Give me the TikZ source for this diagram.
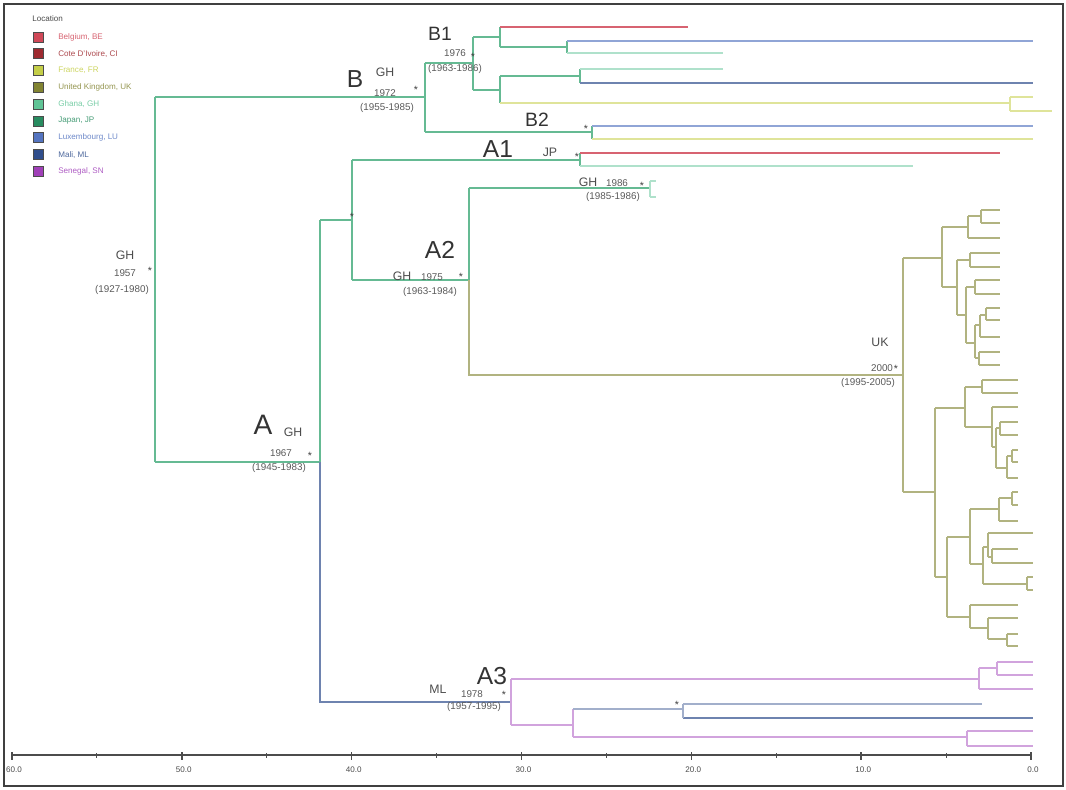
\documentclass[tikz,border=0pt]{standalone}
\usepackage{fontspec}
\setmainfont{Liberation Sans}
\usepackage{tikz}
\usetikzlibrary{positioning}
\usepackage{xcolor}
\definecolor{bered}{RGB}{208,72,88}
\definecolor{cired}{RGB}{158,42,48}
\definecolor{fryel}{RGB}{196,206,72}
\definecolor{ukolive}{RGB}{130,132,50}
\definecolor{ghgreen}{RGB}{96,196,150}
\definecolor{jpgreen}{RGB}{40,140,96}
\definecolor{lublue}{RGB}{84,116,192}
\definecolor{mlblue}{RGB}{48,78,140}
\definecolor{snpurple}{RGB}{160,64,184}
\newcommand{\cherry}[4]{\draw (#1,#2) -- (#1,#3) (#1,#2) -- (#4,#2) (#1,#3) -- (#4,#3);}

\begin{document}
\begin{tikzpicture}[x=0.02cm, y=-0.02cm,
      br/.style={line width=0.8pt},
      ghline/.style={draw=ghgreen!85!gray},
      ghpale/.style={draw=ghgreen!50},
      ukline/.style={draw=ukolive!62},
      frline/.style={draw=fryel!55},
      redline/.style={draw=bered!85},
      luline/.style={draw=lublue!65},
      mlline/.style={draw=mlblue!70},
      snline/.style={draw=snpurple!48},
      clade/.style={font=\fontsize{14}{14}\selectfont, text=black!80, inner sep=0},
      subclade/.style={font=\fontsize{11}{11}\selectfont, text=black!80, inner sep=0},
      loc/.style={font=\fontsize{7}{7}\selectfont, text=black!70, inner sep=0},
      yr/.style={font=\fontsize{5.6}{5.6}\selectfont, text=black!65, inner sep=0},
      star/.style={font=\fontsize{6}{6}\selectfont, text=black!75, inner sep=0},
      swatch/.style={draw=black!70, line width=0.5pt, minimum size=0.2cm, inner sep=0},
      legtxt/.style={anchor=west, font=\fontsize{4.6}{5}\selectfont, inner sep=0},
      tick/.style={font=\fontsize{4.6}{5}\selectfont, text=black!70, inner sep=0}
    ]
    \useasboundingbox (0,0) rectangle (1066,789);
    \draw[black!75, line width=1.2pt] (4,4) rectangle (1063,786);

    % legend
    \node[legtxt, text=black!70] (loctitle) at (32,19) {Location};
    \foreach \c/\t [count=\i] in {bered/{Belgium, BE}, cired/{Cote D'Ivoire, CI},
        fryel/{France, FR}, ukolive/{United Kingdom, UK}, ghgreen/{Ghana, GH},
        jpgreen/{Japan, JP}, lublue/{Luxembourg, LU}, mlblue/{Mali, ML},
        snpurple/{Senegal, SN}} {
      \node[swatch, fill=\c] (sw\i) at (38,{37+(\i-1)*16.8}) {};
      \node[legtxt, text=\c!85] (lg\i) at (58,{37+(\i-1)*16.8}) {\t};
    }

    % backbone and B clade
    \begin{scope}[br, ghline]
      \draw (155,97) -- (155,462) (155,97) -- (425,97) (155,462) -- (320,462);
      \draw (425,63) -- (425,132) (425,63) -- (473,63) (473,37) -- (473,90);
      \draw (473,37) -- (500,37) (500,27) -- (500,47) (500,47) -- (567,47) (567,41) -- (567,53);
      \draw (473,90) -- (500,90) (500,76) -- (500,103) (500,76) -- (580,76) (580,69) -- (580,83);
      \draw (425,132) -- (592,132) (592,126) -- (592,139);
      \draw (320,220) -- (320,462) (320,220) -- (352,220) (352,160) -- (352,280);
      \draw (352,160) -- (580,160) (580,153) -- (580,166);
      \draw (352,280) -- (469,280) (469,188) -- (469,280) (469,188) -- (650,188);
    \end{scope}
    \begin{scope}[br, ghpale]
      \draw (567,53) -- (723,53);
      \draw (580,69) -- (723,69);
      \draw (580,166) -- (913,166);
      \cherry{650}{181}{197}{656}
    \end{scope}
    \begin{scope}[br, redline]
      \draw (500,27) -- (688,27);
      \draw (580,153) -- (1000,153);
    \end{scope}
    \begin{scope}[br, luline]
      \draw (567,41) -- (1033,41);
      \draw (592,126) -- (1033,126);
    \end{scope}
    \begin{scope}[br, frline]
      \draw (500,103) -- (1010,103);
      \draw (1010,97) -- (1010,111) (1010,97) -- (1033,97) (1010,111) -- (1052,111);
      \draw (592,139) -- (1033,139);
    \end{scope}
    \begin{scope}[br, mlline]
      \draw (580,83) -- (1033,83);
      \draw (320,462) -- (320,702) -- (511,702);
      \draw (683,718) -- (1033,718);
    \end{scope}

    % UK clade
    \begin{scope}[br, ukline]
      \draw (469,280) -- (469,375) -- (903,375);
      \draw (903,258) -- (903,492);
      \draw (903,258) -- (942,258) (942,227) -- (942,287);
      \draw (942,227) -- (968,227) (968,216) -- (968,238) (968,216) -- (981,216) (968,238) -- (1000,238);
      \cherry{981}{210}{223}{1000}
      \draw (942,287) -- (957,287) (957,260) -- (957,315) (957,260) -- (970,260);
      \cherry{970}{253}{267}{1000}
      \draw (957,315) -- (966,315) (966,287) -- (966,343) (966,287) -- (975,287);
      \cherry{975}{280}{294}{1000}
      \draw (966,343) -- (975,343) (975,325) -- (975,358);
      \draw (975,325) -- (980,325) (980,315) -- (980,337) (980,337) -- (1000,337) (980,315) -- (986,315);
      \cherry{986}{308}{320}{1000}
      \draw (975,358) -- (979,358);
      \cherry{979}{352}{365}{1000}
      \draw (903,492) -- (935,492) (935,408) -- (935,577);
      \draw (935,408) -- (965,408) (965,387) -- (965,427) (965,387) -- (982,387);
      \cherry{982}{380}{393}{1018}
      \draw (965,427) -- (992,427) (992,407) -- (992,447) (992,407) -- (1018,407);
      \draw (992,447) -- (996,447) (996,428) -- (996,468) (996,428) -- (1000,428);
      \cherry{1000}{422}{435}{1018}
      \draw (996,468) -- (1007,468) (1007,456) -- (1007,478) (1007,478) -- (1018,478) (1007,456) -- (1012,456);
      \cherry{1012}{450}{462}{1018}
      \draw (935,577) -- (947,577) (947,537) -- (947,617);
      \draw (947,537) -- (970,537) (970,509) -- (970,564);
      \draw (970,509) -- (999,509) (999,498) -- (999,521) (999,521) -- (1018,521) (999,498) -- (1012,498);
      \cherry{1012}{492}{505}{1018}
      \draw (970,564) -- (983,564) (983,547) -- (983,584);
      \draw (983,547) -- (988,547) (988,533) -- (988,557) (988,533) -- (1033,533);
      \draw (988,557) -- (992,557) (992,549) -- (992,563) (992,549) -- (1018,549) (992,563) -- (1033,563);
      \draw (983,584) -- (1027,584);
      \cherry{1027}{577}{590}{1033}
      \draw (947,617) -- (970,617) (970,605) -- (970,628) (970,605) -- (1018,605);
      \draw (970,628) -- (988,628) (988,618) -- (988,639) (988,618) -- (1018,618) (988,639) -- (1007,639);
      \cherry{1007}{634}{646}{1018}
    \end{scope}

    % A3 clade
    \begin{scope}[br, snline]
      \draw (511,679) -- (511,725);
      \draw (511,679) -- (979,679) (979,668) -- (979,689) (979,689) -- (1033,689) (979,668) -- (997,668);
      \cherry{997}{662}{675}{1033}
      \draw (511,725) -- (573,725) (573,709) -- (573,737);
      \draw (573,737) -- (967,737);
      \cherry{967}{731}{746}{1033}
    \end{scope}
    \begin{scope}[br, draw=mlblue!45]
      \draw (573,709) -- (683,709) (683,704) -- (683,718);
      \draw (683,704) -- (982,704);
    \end{scope}

    % node labels
    \node[loc] (rootloc) at (125,255) {GH};
    \node[yr] (rootyr) at (125,273) {1957};
    \node[star] (rootstar) at (150,271) {*};
    \node[yr] (rootci) at (122,290) {(1927-1980)};

    \node[clade] (B) at (355,79) {B};
    \node[loc] (Bloc) at (385,72) {GH};
    \node[yr] (Byr) at (385,93) {1972};
    \node[star] (Bstar) at (416,90) {*};
    \node[yr] (Bci) at (387,108) {(1955-1985)};

    \node[subclade] (B1) at (440,34) {B1};
    \node[yr] (B1yr) at (455,53) {1976};
    \node[star] (B1star) at (473,57) {*};
    \node[yr] (B1ci) at (455,69) {(1963-1986)};

    \node[subclade] (B2) at (537,120) {B2};
    \node[star] (B2star) at (586,129) {*};

    \node[clade] (A1) at (498,149) {A1};
    \node[loc] (A1loc) at (550,152) {JP};
    \node[star] (A1star) at (577,157) {*};

    \node[loc] (ghloc) at (588,182) {GH};
    \node[yr] (ghyr) at (617,183) {1986};
    \node[star] (ghstar) at (642,186) {*};
    \node[yr] (ghci) at (613,197) {(1985-1986)};

    \node[star] (Astar2) at (352,217) {*};

    \node[clade] (A2) at (440,250) {A2};
    \node[loc] (A2loc) at (402,276) {GH};
    \node[yr] (A2yr) at (432,277) {1975};
    \node[star] (A2star) at (461,277) {*};
    \node[yr] (A2ci) at (430,292) {(1963-1984)};

    \node[loc] (UKloc) at (880,342) {UK};
    \node[yr] (UKyr) at (882,368) {2000};
    \node[star] (UKstar) at (896,369) {*};
    \node[yr] (UKci) at (868,383) {(1995-2005)};

    \node[clade, font=\fontsize{16}{16}\selectfont] (A) at (263,425) {A};
    \node[loc] (Aloc) at (293,432) {GH};
    \node[yr] (Ayr) at (281,453) {1967};
    \node[star] (Astar) at (310,456) {*};
    \node[yr] (Aci) at (279,468) {(1945-1983)};

    \node[loc] (A3loc) at (438,689) {ML};
    \node[clade] (A3) at (492,676) {A3};
    \node[yr] (A3yr) at (472,694) {1978};
    \node[star] (A3star) at (504,695) {*};
    \node[yr] (A3ci) at (474,707) {(1957-1995)};
    \node[star] (A3bstar) at (677,705) {*};

    % time axis
    \draw[black!70, line width=0.8pt] (12,755) -- (1031,755);
    \foreach \i in {0,...,12} {
      \draw[black!70, line width=0.6pt] ({12+\i*84.917},753) -- ({12+\i*84.917},758);
    }
    \foreach \v [count=\i from 0] in {60.0,50.0,40.0,30.0,20.0,10.0,0.0} {
      \draw[black!70, line width=0.8pt] ({12+\i*169.83},752) -- ({12+\i*169.83},760);
      \node[tick] (ax\i) at ({14+\i*169.83},770) {\v};
    }
  \end{tikzpicture}
\end{document}
